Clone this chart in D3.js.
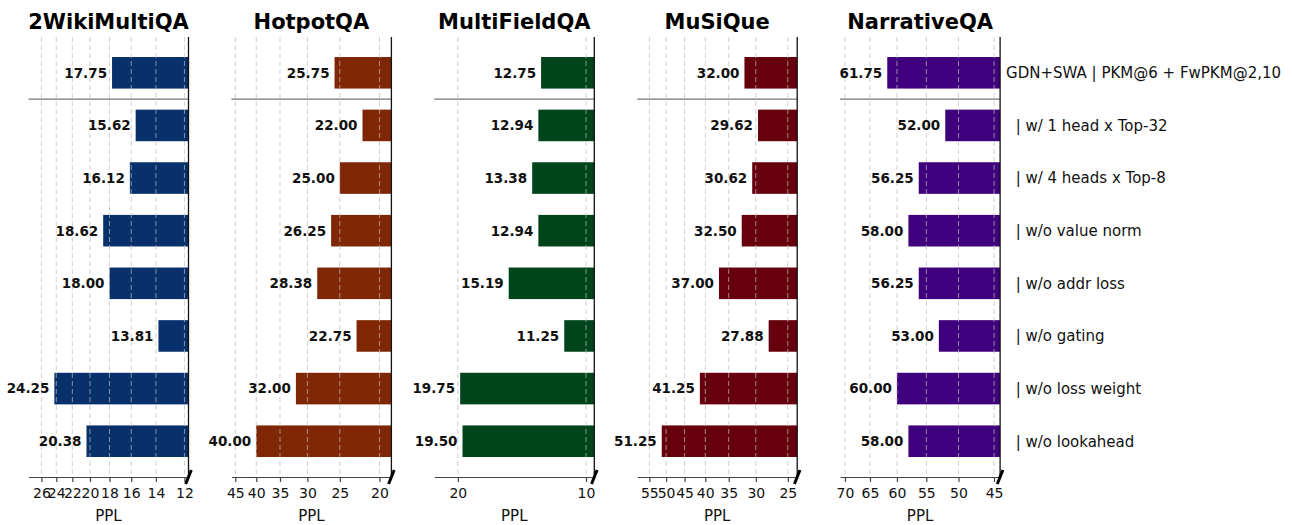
<!DOCTYPE html>
<html>
<head>
<meta charset="utf-8">
<script src="https://cdn.jsdelivr.net/npm/d3@7"></script>
<style>
  html, body { margin: 0; padding: 0; background: #fff; }
  svg { display: block; font-family: "DejaVu Sans", sans-serif; }
</style>
</head>
<body>
<svg id="chart" width="1292" height="525"></svg>
<script>
// Ablation variants (rows, top to bottom)
const categories = [
  "GDN+SWA | PKM@6 + FwPKM@2,10",
  "  | w/ 1 head x Top-32",
  "  | w/ 4 heads x Top-8",
  "  | w/o value norm",
  "  | w/o addr loss",
  "  | w/o gating",
  "  | w/o loss weight",
  "  | w/o lookahead"
];

// Per-dataset PPL values
const datasets = ["2WikiMultiQA", "HotpotQA", "MultiFieldQA", "MuSiQue", "NarrativeQA"];
const ppl2Wiki       = [17.75, 15.62, 16.12, 18.62, 18.00, 13.81, 24.25, 20.38];
const pplHotpot      = [25.75, 22.00, 25.00, 26.25, 28.38, 22.75, 32.00, 40.00];
const pplMultiField  = [12.75, 12.94, 13.38, 12.94, 15.19, 11.25, 19.75, 19.50];
const pplMuSiQue     = [32.00, 29.62, 30.62, 32.50, 37.00, 27.88, 41.25, 51.25];
const pplNarrative   = [61.75, 52.00, 56.25, 58.00, 56.25, 53.00, 60.00, 58.00];

// Tick values for each PPL axis
const ticks2Wiki      = [26, 24, 22, 20, 18, 16, 14, 12];
const ticksHotpot     = [45, 40, 35, 30, 25, 20];
const ticksMultiField = [20, 10];
const ticksMuSiQue    = [55, 50, 45, 40, 35, 30, 25];
const ticksNarrative  = [70, 65, 60, 55, 50, 45];

const colors = ["#08306b", "#7f2704", "#00441b", "#67000d", "#3f007d"];

const series = [ppl2Wiki, pplHotpot, pplMultiField, pplMuSiQue, pplNarrative];
const tickSets = [ticks2Wiki, ticksHotpot, ticksMultiField, ticksMuSiQue, ticksNarrative];

const svg = d3.select("#chart");

const plotTop = 37, plotBottom = 477;
const panelW = 160, panelStep = 202.9, firstLeft = 28.5;

const y = d3.scaleLinear().domain([-0.68, categories.length - 1 + 0.68]).range([plotTop, plotBottom]);
const barH = y(0.6) - y(0);

datasets.forEach((name, i) => {
  const vals = series[i];
  const left = firstLeft + i * panelStep;
  const right = left + panelW;

  // Reversed log axis: larger PPL to the left, bars grow from the right edge
  const x = d3.scaleLog()
    .domain([d3.max(vals) * 1.15, d3.min(vals) * 0.85])
    .range([left, right]);

  const g = svg.append("g");

  // Bars
  g.selectAll("rect.bar")
    .data(vals)
    .join("rect")
    .attr("class", "bar")
    .attr("x", d => x(d))
    .attr("width", d => right - x(d))
    .attr("y", (d, j) => y(j) - barH / 2)
    .attr("height", barH)
    .attr("fill", colors[i]);

  // Dashed vertical grid on top of bars
  g.selectAll("line.grid")
    .data(tickSets[i])
    .join("line")
    .attr("class", "grid")
    .attr("x1", d => x(d)).attr("x2", d => x(d))
    .attr("y1", plotTop).attr("y2", plotBottom)
    .attr("stroke", "#bdbdbd")
    .attr("stroke-opacity", 0.7)
    .attr("stroke-width", 1)
    .attr("stroke-dasharray", "5,3");

  // Separator between the full model and the ablations
  g.append("line")
    .attr("x1", left).attr("x2", right)
    .attr("y1", y(0.5)).attr("y2", y(0.5))
    .attr("stroke", "#777")
    .attr("stroke-width", 1.2);

  // Value labels
  g.selectAll("text.val")
    .data(vals)
    .join("text")
    .attr("class", "val")
    .attr("x", d => x(d) - 5)
    .attr("y", (d, j) => y(j))
    .attr("dy", "0.36em")
    .attr("text-anchor", "end")
    .attr("font-size", 13.5)
    .attr("font-weight", "bold")
    .attr("fill", "#111")
    .text(d => d.toFixed(2));

  // Bottom axis
  const axis = d3.axisBottom(x)
    .tickValues(tickSets[i])
    .tickFormat(d3.format("d"))
    .tickSize(5)
    .tickSizeOuter(0)
    .tickPadding(6);
  const ax = g.append("g")
    .attr("transform", `translate(0,${plotBottom})`)
    .call(axis);
  ax.select(".domain").attr("stroke", "#444").attr("stroke-width", 1.2);
  ax.selectAll(".tick line").attr("stroke", "#444").attr("stroke-width", 1.2);
  ax.selectAll(".tick text")
    .attr("font-size", 14)
    .attr("font-family", "DejaVu Sans, sans-serif")
    .attr("fill", "#111");

  // Right spine
  g.append("line")
    .attr("x1", right).attr("x2", right)
    .attr("y1", plotTop).attr("y2", plotBottom)
    .attr("stroke", "#111")
    .attr("stroke-width", 1.3);

  // Axis-break mark at the bottom-right corner
  g.append("line")
    .attr("x1", right - 2.8).attr("y1", plotBottom + 7)
    .attr("x2", right + 2.8).attr("y2", plotBottom - 7)
    .attr("stroke", "#000")
    .attr("stroke-width", 3);

  // Axis label
  g.append("text")
    .attr("x", (left + right) / 2)
    .attr("y", 521)
    .attr("text-anchor", "middle")
    .attr("font-size", 15)
    .attr("fill", "#111")
    .text("PPL");

  // Panel title
  g.append("text")
    .attr("x", (left + right) / 2)
    .attr("y", 29)
    .attr("text-anchor", "middle")
    .attr("font-size", 21)
    .attr("font-weight", "bold")
    .attr("fill", "#000")
    .text(name);

  // Row labels beside the last panel
  if (i === datasets.length - 1) {
    g.selectAll("text.cat")
      .data(categories)
      .join("text")
      .attr("class", "cat")
      .attr("x", right + 6)
      .attr("y", (d, j) => y(j))
      .attr("dy", "0.36em")
      .attr("font-size", 15)
      .attr("fill", "#111")
      .style("white-space", "pre")
      .text(d => d);
  }
});
</script>
</body>
</html>
